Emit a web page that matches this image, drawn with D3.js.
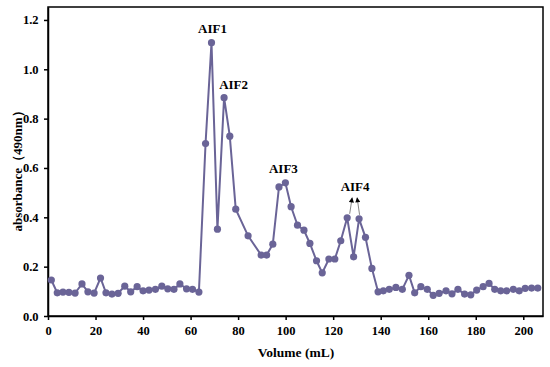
<!DOCTYPE html>
<html lang="en">
<head>
  <meta charset="UTF-8">
  <title>AIF elution profile</title>
  <style>
    body { margin: 0; background: #fff; }
    text { font-family: "Liberation Serif", "Times New Roman", serif; font-weight: bold; }
  </style>
</head>
<body>
  <script src="https://d3js.org/d3.v7.min.js"></script>
  <script>
    // elution volume (mL) and absorbance at 490 nm
    const volume = [
      1.4, 3.9, 6.3, 8.8, 11.4, 14.3, 16.8, 19.4, 22.1, 24.4, 26.9, 29.5, 32.3,
      34.8, 37.5, 40.0, 42.5, 45.2, 47.9, 50.4, 53.0, 55.5, 58.3, 60.8, 63.5,
      66.3, 68.8, 71.3, 74.1, 76.5, 79.0, 84.2, 89.7, 92.0, 94.6, 97.2, 99.9,
      102.3, 105.0, 107.7, 110.2, 113.0, 115.4, 118.2, 120.7, 123.2, 125.9,
      128.6, 130.9, 133.6, 136.3, 138.9, 141.1, 143.6, 146.4, 149.1, 151.9,
      154.3, 156.9, 159.6, 162.1, 164.6, 167.5, 170.0, 172.5, 175.3, 177.9,
      180.4, 183.1, 185.6, 188.0, 190.5, 193.0, 195.8, 198.3, 200.8, 203.5, 206.1
    ];
    const absorbance = [
      0.146, 0.094, 0.097, 0.096, 0.093, 0.130, 0.098, 0.093, 0.154, 0.094, 0.089, 0.092, 0.121,
      0.098, 0.119, 0.102, 0.105, 0.108, 0.121, 0.110, 0.108, 0.130, 0.110, 0.108, 0.097,
      0.699, 1.108, 0.352, 0.885, 0.729, 0.433, 0.325, 0.247, 0.247, 0.291, 0.523, 0.540,
      0.443, 0.368, 0.348, 0.294, 0.224, 0.175, 0.231, 0.231, 0.305, 0.398,
      0.240, 0.394, 0.319, 0.193, 0.098, 0.102, 0.108, 0.116, 0.108, 0.165,
      0.094, 0.119, 0.108, 0.084, 0.092, 0.102, 0.090, 0.108, 0.089, 0.086,
      0.105, 0.119, 0.132, 0.108, 0.102, 0.102, 0.108, 0.102, 0.112, 0.113, 0.113
    ];
    const xTicks = [0, 20, 40, 60, 80, 100, 120, 140, 160, 180, 200];
    const yTicks = [0.0, 0.2, 0.4, 0.6, 0.8, 1.0, 1.2];
    // peak labels and the point each one belongs to
    const peakNames = ["AIF1", "AIF2", "AIF3"];
    const peakIdx = [26, 28, 36];
    const aif4Idx = [46, 48];

    const width = 550;
    const height = 367;
    const mLeft = 48, mRight = 543, mTop = 7, mBottom = 316;
    const color = "#6a6497";

    const svg = d3.select("body").append("svg").attr("width", width).attr("height", height);

    const xScale = d3.scaleLinear().domain([0, 208.3]).range([mLeft, mRight]);
    const yScale = d3.scaleLinear().domain([0, 1.2525]).range([mBottom, mTop]);

    // frame
    svg.append("rect")
      .attr("x", mLeft).attr("y", mTop)
      .attr("width", mRight - mLeft).attr("height", mBottom - mTop)
      .attr("fill", "none").attr("stroke", "#000").attr("stroke-width", 1.5);

    const axisX = d3.axisBottom(xScale).tickValues(xTicks).tickSize(4).tickSizeOuter(0);
    const axisY = d3.axisLeft(yScale).tickValues(yTicks).tickSize(4).tickSizeOuter(0)
      .tickFormat(d3.format(".1f"));

    const gx = svg.append("g").attr("transform", "translate(0," + mBottom + ")").call(axisX);
    const gy = svg.append("g").attr("transform", "translate(" + mLeft + ",0)").call(axisY);
    [gx, gy].forEach(function(g) {
      g.select(".domain").attr("stroke-width", 1.5);
      g.selectAll(".tick line").attr("stroke-width", 1.5);
      g.selectAll(".tick text").attr("font-size", 12.5).attr("fill", "#000")
        .style("font-family", "'Liberation Serif', serif").style("font-weight", "bold");
    });
    gx.selectAll(".tick text").attr("dy", "0.95em");
    gy.selectAll(".tick text").attr("dx", "-0.2em");

    svg.append("text")
      .attr("x", 296).attr("y", 357)
      .attr("text-anchor", "middle").attr("font-size", 13.5)
      .text("Volume (mL)");

    svg.append("text")
      .attr("transform", "translate(22,168) rotate(-90)")
      .attr("text-anchor", "middle").attr("font-size", 13)
      .text("absorbance（490nm）");

    const data = volume.map(function(v, i) { return [v, absorbance[i]]; });

    const line = d3.line()
      .x(function(d) { return xScale(d[0]); })
      .y(function(d) { return yScale(d[1]); });

    svg.append("path")
      .datum(data)
      .attr("d", line)
      .attr("fill", "none")
      .attr("stroke", color)
      .attr("stroke-width", 2);

    svg.selectAll("circle")
      .data(data)
      .enter()
      .append("circle")
      .attr("cx", function(d) { return xScale(d[0]); })
      .attr("cy", function(d) { return yScale(d[1]); })
      .attr("r", 3.6)
      .attr("fill", color);

    // label offsets from their peak, in px
    const labelDx = [1, 9.5, -2];
    const labelDy = [-9.5, -9, -9.5];
    peakNames.forEach(function(name, k) {
      const d = data[peakIdx[k]];
      svg.append("text")
        .attr("x", xScale(d[0]) + labelDx[k]).attr("y", yScale(d[1]) + labelDy[k])
        .attr("text-anchor", "middle").attr("font-size", 13)
        .text(name);
    });

    // AIF4 with two small arrows pointing up from its twin peaks
    svg.append("defs").append("marker")
      .attr("id", "arrow").attr("viewBox", "0 0 10 10")
      .attr("refX", 9).attr("refY", 5)
      .attr("markerUnits", "userSpaceOnUse")
      .attr("markerWidth", 7).attr("markerHeight", 5)
      .attr("orient", "auto")
      .append("path").attr("d", "M0,0 L10,5 L0,10 z").attr("fill", "#000");

    const p1 = data[aif4Idx[0]], p2 = data[aif4Idx[1]];
    const labelX = (xScale(p1[0]) + xScale(p2[0])) / 2 + 2;
    const labelY = yScale(Math.max(p1[1], p2[1])) - 27;
    svg.append("text")
      .attr("x", labelX).attr("y", labelY)
      .attr("text-anchor", "middle").attr("font-size", 13)
      .text("AIF4");
    [p1, p2].forEach(function(p, k) {
      svg.append("line")
        .attr("x1", xScale(p[0]) + (k === 0 ? 2.5 : 0.5)).attr("y1", yScale(p[1]) - 4)
        .attr("x2", labelX + (k === 0 ? -3 : 2)).attr("y2", labelY + 7)
        .attr("stroke", "#666").attr("stroke-width", 0.8)
        .attr("marker-end", "url(#arrow)");
    });
  </script>
</body>
</html>
